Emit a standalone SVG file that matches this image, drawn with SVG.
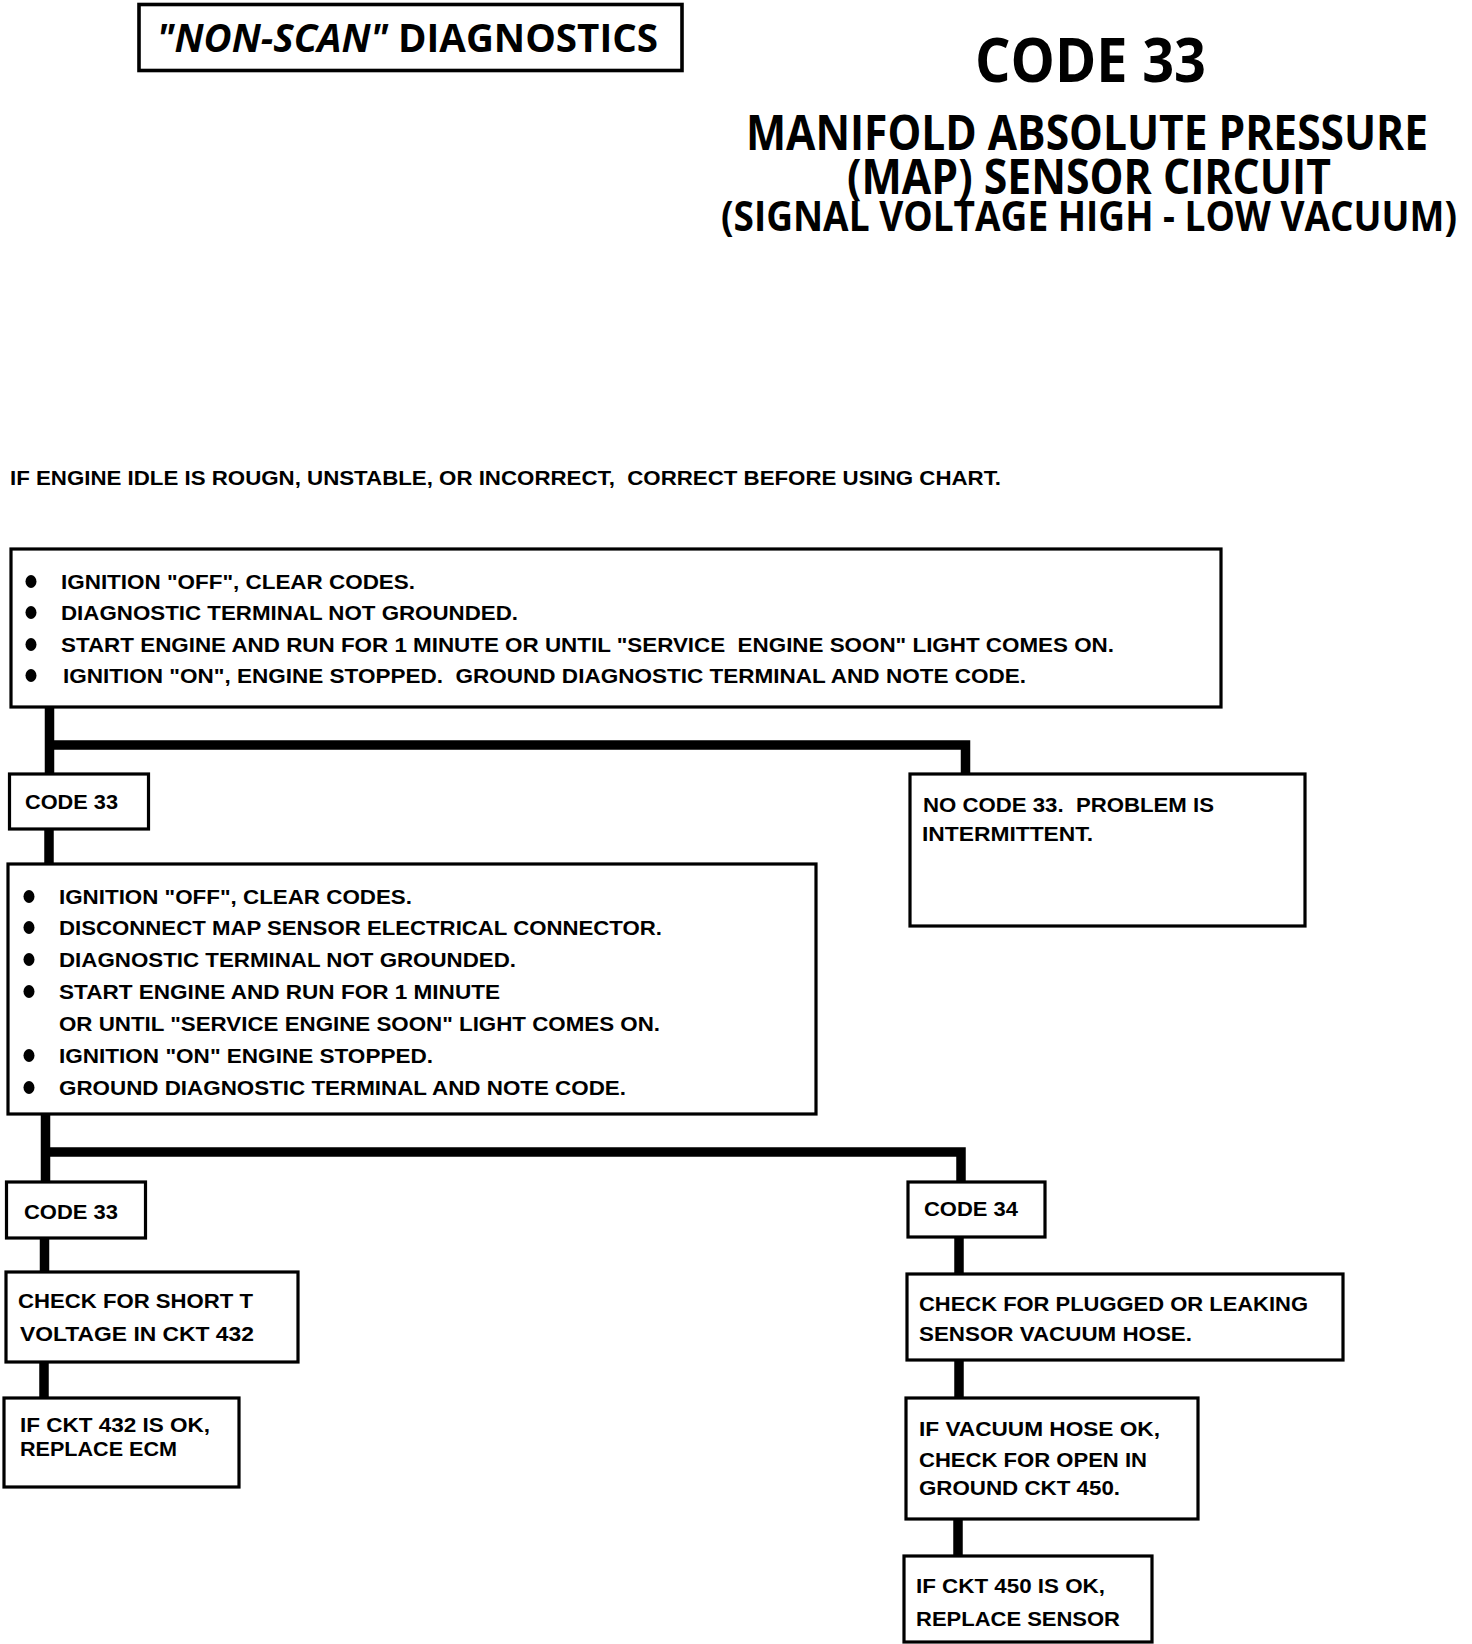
<svg xmlns="http://www.w3.org/2000/svg" width="1472" height="1644" viewBox="0 0 1472 1644">
<style>
  .bg { fill: #ffffff; }
  .box { fill: #ffffff; stroke: #000000; stroke-width: 3.2; }
  .t { font-family: "Liberation Sans", Arial, sans-serif; font-weight: 700; font-size: 21px; fill: #000000; white-space: pre; }
  .h { font-family: "Open Sans", "DejaVu Sans", sans-serif; font-weight: 700; fill: #000000; white-space: pre; }
  .conn { fill: none; stroke: #000000; stroke-width: 9.5; stroke-linejoin: miter; stroke-linecap: butt; }
  .dot { fill: #000000; }
</style>
<rect class="bg" x="0" y="0" width="1472" height="1644"/>

<g id="header">
  <rect class="box" x="139" y="4.5" width="543" height="66" style="stroke-width:3.6"/>
  <text class="h" x="157" y="52" font-size="40" textLength="501" lengthAdjust="spacingAndGlyphs"><tspan font-style="italic">"NON-SCAN"</tspan> DIAGNOSTICS</text>
  <text class="h" x="975" y="82" font-size="60" textLength="231" lengthAdjust="spacingAndGlyphs">CODE 33</text>
  <text class="h" x="746" y="150" font-size="49" textLength="682" lengthAdjust="spacingAndGlyphs">MANIFOLD ABSOLUTE PRESSURE</text>
  <text class="h" x="847" y="194" font-size="49" textLength="484" lengthAdjust="spacingAndGlyphs">(MAP) SENSOR CIRCUIT</text>
  <text class="h" x="721" y="231" font-size="41" textLength="736" lengthAdjust="spacingAndGlyphs">(SIGNAL VOLTAGE HIGH - LOW VACUUM)</text>
  <text class="t" x="10" y="485" textLength="991" lengthAdjust="spacingAndGlyphs">IF ENGINE IDLE IS ROUGN, UNSTABLE, OR INCORRECT,  CORRECT BEFORE USING CHART.</text>
</g>

<g id="connectors">
  <path class="conn" d="M49.5 706 V774 M45 745 H965.5 V774"/>
  <path class="conn" d="M49 828 V865"/>
  <path class="conn" d="M45.5 1113 V1182 M41 1152 H961 V1182"/>
  <path class="conn" d="M44.5 1237 V1273"/>
  <path class="conn" d="M44 1361 V1399"/>
  <path class="conn" d="M959 1236 V1275"/>
  <path class="conn" d="M959 1359 V1399"/>
  <path class="conn" d="M958 1518 V1557"/>
</g>

<g id="step1">
  <rect class="box" x="11" y="549" width="1210" height="158"/>
  <ellipse class="dot" cx="31" cy="581.5" rx="5.5" ry="6.5"/>
  <ellipse class="dot" cx="31" cy="612.5" rx="5.5" ry="6.5"/>
  <ellipse class="dot" cx="31" cy="644.5" rx="5.5" ry="6.5"/>
  <ellipse class="dot" cx="31" cy="675.5" rx="5.5" ry="6.5"/>
  <text class="t" x="61" y="589" textLength="354" lengthAdjust="spacingAndGlyphs">IGNITION "OFF", CLEAR CODES.</text>
  <text class="t" x="61" y="620" textLength="457" lengthAdjust="spacingAndGlyphs">DIAGNOSTIC TERMINAL NOT GROUNDED.</text>
  <text class="t" x="61" y="652" textLength="1053" lengthAdjust="spacingAndGlyphs">START ENGINE AND RUN FOR 1 MINUTE OR UNTIL "SERVICE  ENGINE SOON" LIGHT COMES ON.</text>
  <text class="t" x="63" y="683" textLength="963" lengthAdjust="spacingAndGlyphs">IGNITION "ON", ENGINE STOPPED.  GROUND DIAGNOSTIC TERMINAL AND NOTE CODE.</text>
</g>

<g id="code33a">
  <rect class="box" x="9.5" y="774" width="139" height="55"/>
  <text class="t" x="25" y="809" textLength="93" lengthAdjust="spacingAndGlyphs">CODE 33</text>
</g>

<g id="nocode33">
  <rect class="box" x="910" y="774" width="395" height="152"/>
  <text class="t" x="923" y="812" textLength="291" lengthAdjust="spacingAndGlyphs">NO CODE 33.  PROBLEM IS</text>
  <text class="t" x="922" y="841" textLength="171" lengthAdjust="spacingAndGlyphs">INTERMITTENT.</text>
</g>

<g id="step2">
  <rect class="box" x="8" y="864" width="808" height="250"/>
  <ellipse class="dot" cx="29" cy="896.5" rx="5.5" ry="6.5"/>
  <ellipse class="dot" cx="29" cy="927.5" rx="5.5" ry="6.5"/>
  <ellipse class="dot" cx="29" cy="959.5" rx="5.5" ry="6.5"/>
  <ellipse class="dot" cx="29" cy="991.5" rx="5.5" ry="6.5"/>
  <ellipse class="dot" cx="29" cy="1055.5" rx="5.5" ry="6.5"/>
  <ellipse class="dot" cx="29" cy="1087.5" rx="5.5" ry="6.5"/>
  <text class="t" x="59" y="904" textLength="353" lengthAdjust="spacingAndGlyphs">IGNITION "OFF", CLEAR CODES.</text>
  <text class="t" x="59" y="935" textLength="603" lengthAdjust="spacingAndGlyphs">DISCONNECT MAP SENSOR ELECTRICAL CONNECTOR.</text>
  <text class="t" x="59" y="967" textLength="457" lengthAdjust="spacingAndGlyphs">DIAGNOSTIC TERMINAL NOT GROUNDED.</text>
  <text class="t" x="59" y="999" textLength="441" lengthAdjust="spacingAndGlyphs">START ENGINE AND RUN FOR 1 MINUTE</text>
  <text class="t" x="59" y="1031" textLength="601" lengthAdjust="spacingAndGlyphs">OR UNTIL "SERVICE ENGINE SOON" LIGHT COMES ON.</text>
  <text class="t" x="59" y="1063" textLength="374" lengthAdjust="spacingAndGlyphs">IGNITION "ON" ENGINE STOPPED.</text>
  <text class="t" x="59" y="1095" textLength="567" lengthAdjust="spacingAndGlyphs">GROUND DIAGNOSTIC TERMINAL AND NOTE CODE.</text>
</g>

<g id="code33b">
  <rect class="box" x="6.5" y="1182" width="139" height="56"/>
  <text class="t" x="24" y="1219" textLength="94" lengthAdjust="spacingAndGlyphs">CODE 33</text>
</g>

<g id="checkshort">
  <rect class="box" x="6" y="1272" width="292" height="90"/>
  <text class="t" x="18" y="1308" textLength="235" lengthAdjust="spacingAndGlyphs">CHECK FOR SHORT T</text>
  <text class="t" x="20" y="1341" textLength="234" lengthAdjust="spacingAndGlyphs">VOLTAGE IN CKT 432</text>
</g>

<g id="replaceecm">
  <rect class="box" x="4" y="1398" width="235" height="89"/>
  <text class="t" x="20" y="1432" textLength="190" lengthAdjust="spacingAndGlyphs">IF CKT 432 IS OK,</text>
  <text class="t" x="20" y="1456" textLength="157" lengthAdjust="spacingAndGlyphs">REPLACE ECM</text>
</g>

<g id="code34">
  <rect class="box" x="908" y="1182" width="137" height="55"/>
  <text class="t" x="924" y="1216" textLength="94" lengthAdjust="spacingAndGlyphs">CODE 34</text>
</g>

<g id="checkhose">
  <rect class="box" x="907" y="1274" width="436" height="86"/>
  <text class="t" x="919" y="1311" textLength="389" lengthAdjust="spacingAndGlyphs">CHECK FOR PLUGGED OR LEAKING</text>
  <text class="t" x="919" y="1341" textLength="273" lengthAdjust="spacingAndGlyphs">SENSOR VACUUM HOSE.</text>
</g>

<g id="checkground">
  <rect class="box" x="906" y="1398" width="292" height="121"/>
  <text class="t" x="919" y="1436" textLength="241" lengthAdjust="spacingAndGlyphs">IF VACUUM HOSE OK,</text>
  <text class="t" x="919" y="1467" textLength="228" lengthAdjust="spacingAndGlyphs">CHECK FOR OPEN IN</text>
  <text class="t" x="919" y="1495" textLength="201" lengthAdjust="spacingAndGlyphs">GROUND CKT 450.</text>
</g>

<g id="replacesensor">
  <rect class="box" x="904" y="1556" width="248" height="86"/>
  <text class="t" x="916" y="1593" textLength="189" lengthAdjust="spacingAndGlyphs">IF CKT 450 IS OK,</text>
  <text class="t" x="916" y="1626" textLength="204" lengthAdjust="spacingAndGlyphs">REPLACE SENSOR</text>
</g>
</svg>
